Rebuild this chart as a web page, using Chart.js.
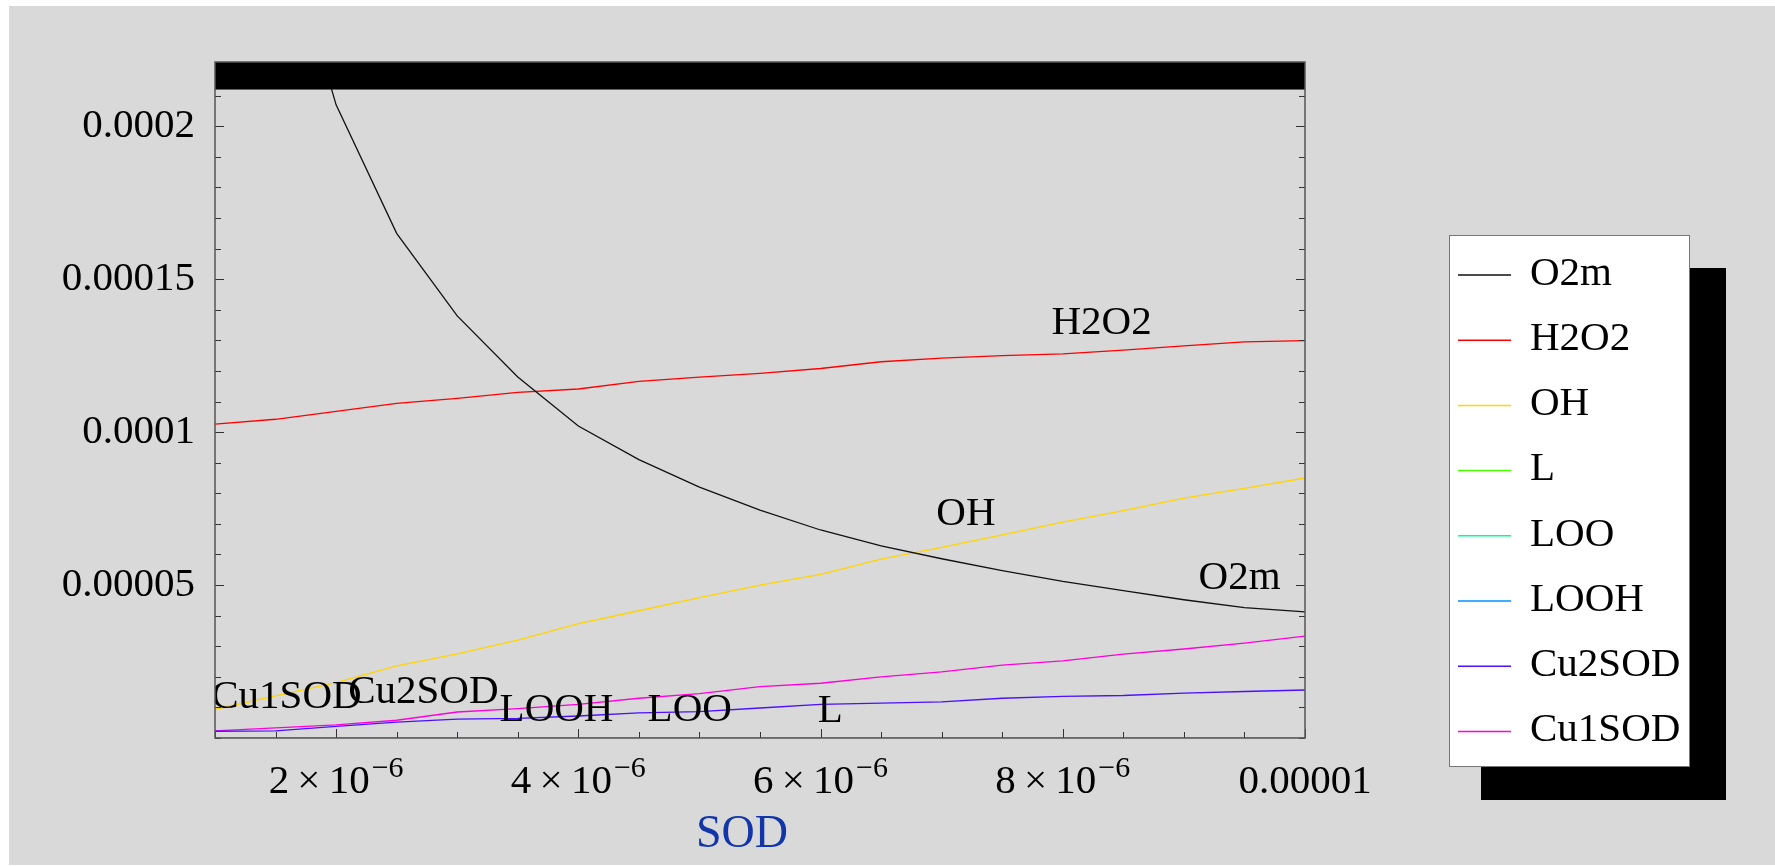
<!DOCTYPE html>
<html>
<head>
<meta charset="utf-8">
<script src="https://cdn.jsdelivr.net/npm/chart.js@4.4.1/dist/chart.umd.min.js"></script>
<style>
    html, body { margin: 0; padding: 0; background: #ffffff; }
    #fondo { position: absolute; left: 9px; top: 6px; width: 1766px; height: 859px; background: #d9d9d9; }
    #grafico { position: absolute; left: 0; top: 0; }
</style>
</head>
<body>
<div id="fondo"></div>
<canvas id="grafico" width="1775" height="866"></canvas>
<script>
// SOD concentration (x axis)
const sod = [0.000001, 0.0000015, 0.000002, 0.0000025, 0.000003, 0.0000035, 0.000004, 0.0000045, 0.000005, 0.0000055,
             0.000006, 0.0000065, 0.000007, 0.0000075, 0.000008, 0.0000085, 0.000009, 0.0000095, 0.00001];

// series (units of 1e-5)
const o2m    = [41.0, 27.5, 20.7, 16.5, 13.8, 11.8, 10.2, 9.1, 8.2, 7.45, 6.8, 6.28, 5.86, 5.47, 5.12, 4.82, 4.52, 4.26, 4.12];
const h2o2   = [10.26, 10.42, 10.68, 10.94, 11.1, 11.3, 11.41, 11.66, 11.8, 11.92, 12.08, 12.3, 12.42, 12.5, 12.56, 12.68, 12.82, 12.95, 12.99];
const oh     = [0.94, 1.38, 1.81, 2.36, 2.75, 3.2, 3.74, 4.16, 4.59, 5.0, 5.35, 5.85, 6.23, 6.64, 7.06, 7.43, 7.84, 8.16, 8.5];
const lRad   = [0, 0, 0, 0, 0, 0, 0, 0, 0, 0, 0, 0, 0, 0, 0, 0, 0, 0, 0];
const loo    = [0, 0, 0, 0, 0, 0, 0, 0, 0, 0, 0, 0, 0, 0, 0, 0, 0, 0, 0];
const looh   = [0, 0, 0, 0, 0, 0, 0, 0, 0, 0, 0, 0, 0, 0, 0, 0, 0, 0, 0];
const cu2sod = [0.22, 0.23, 0.38, 0.52, 0.62, 0.64, 0.72, 0.82, 0.86, 0.98, 1.1, 1.14, 1.18, 1.3, 1.36, 1.39, 1.47, 1.52, 1.57];
const cu1sod = [0.23, 0.33, 0.43, 0.58, 0.85, 0.96, 1.1, 1.3, 1.45, 1.68, 1.79, 2.0, 2.16, 2.38, 2.52, 2.74, 2.91, 3.1, 3.33];

const seriesNames  = ['O2m', 'H2O2', 'OH', 'L', 'LOO', 'LOOH', 'Cu2SOD', 'Cu1SOD'];
const seriesData   = [o2m, h2o2, oh, lRad, loo, looh, cu2sod, cu1sod];
const seriesColors = ['#111111', '#ff0000', '#ffd400', '#49ff00', '#00ff92', '#0092ff', '#4a10ff', '#ff00db'];

// ticks
const yTicks = [0, 0.00001, 0.00002, 0.00003, 0.00004, 0.00005, 0.00006, 0.00007, 0.00008, 0.00009, 0.0001,
                0.00011, 0.00012, 0.00013, 0.00014, 0.00015, 0.00016, 0.00017, 0.00018, 0.00019, 0.0002, 0.00021];
const yMajor = [0.00005, 0.0001, 0.00015, 0.0002];
const yLabels = ['0.00005', '0.0001', '0.00015', '0.0002'];
const xTicks = sod;
const xMajor = [0.000002, 0.000004, 0.000006, 0.000008, 0.00001];
const xLabelBase = ['2\u2009\u00d7\u200910', '4\u2009\u00d7\u200910', '6\u2009\u00d7\u200910', '8\u2009\u00d7\u200910', '0.00001'];
const xLabelExp  = ['\u22126', '\u22126', '\u22126', '\u22126', ''];

// text labels placed on the plot (x in 1e-6, y in 1e-5)
const noteText = ['H2O2', 'OH', 'O2m', 'Cu1SOD', 'Cu2SOD', 'LOOH', 'LOO', 'L'];
const noteX    = [8.32, 7.20, 9.46, 1.59, 2.72, 3.82, 4.92, 6.08];
const noteY    = [13.57, 7.32, 5.23, 1.34, 1.50, 0.92, 0.92, 0.88];

const serif = '"Liberation Serif", "Times New Roman", serif';
const barBottom = 0.000212;

function isMajor(v, lista) {
    return lista.some(m => Math.abs(m - v) < 1e-9);
}

const marcoPlugin = {
    id: 'marco',
    afterDatasetsDraw(chart) {
        const ctx = chart.ctx;
        const a = chart.chartArea;
        const xs = chart.scales.x, ys = chart.scales.y;
        ctx.save();

        // notes on curves
        ctx.beginPath();
        ctx.rect(a.left, a.top, a.right - a.left, a.bottom - a.top);
        ctx.clip();
        ctx.fillStyle = '#000';
        ctx.font = '41px ' + serif;
        ctx.textAlign = 'center';
        ctx.textBaseline = 'middle';
        noteText.forEach((t, i) => {
            ctx.fillText(t, xs.getPixelForValue(noteX[i] * 1e-6), ys.getPixelForValue(noteY[i] * 1e-5));
        });
        ctx.restore();
        ctx.save();

        // tick marks pointing inward
        ctx.strokeStyle = '#333';
        ctx.lineWidth = 1;
        ctx.beginPath();
        yTicks.forEach(v => {
            const y = Math.round(ys.getPixelForValue(v)) + 0.5;
            const len = isMajor(v, yMajor) ? 9 : 6;
            ctx.moveTo(a.left, y); ctx.lineTo(a.left + len, y);
            ctx.moveTo(a.right, y); ctx.lineTo(a.right - len, y);
        });
        xTicks.forEach(v => {
            const x = Math.round(xs.getPixelForValue(v)) + 0.5;
            const len = isMajor(v, xMajor) ? 9 : 6;
            ctx.moveTo(x, a.bottom); ctx.lineTo(x, a.bottom - len);
        });
        ctx.stroke();

        // black band along the top
        const yb = ys.getPixelForValue(barBottom);
        ctx.fillStyle = '#000';
        ctx.fillRect(a.left, a.top, a.right - a.left, yb - a.top);

        // frame
        ctx.strokeStyle = '#555';
        ctx.lineWidth = 1.5;
        ctx.strokeRect(a.left, a.top, a.right - a.left, a.bottom - a.top);
        ctx.restore();
    },
    afterDraw(chart) {
        const ctx = chart.ctx;
        const a = chart.chartArea;
        const xs = chart.scales.x;
        ctx.save();

        // x tick labels with exponent
        ctx.fillStyle = '#000';
        ctx.textBaseline = 'alphabetic';
        ctx.textAlign = 'left';
        xMajor.forEach((v, i) => {
            ctx.font = '41px ' + serif;
            const wb = ctx.measureText(xLabelBase[i]).width;
            ctx.font = '30px ' + serif;
            const we = xLabelExp[i] ? ctx.measureText(xLabelExp[i]).width + 2 : 0;
            const x0 = xs.getPixelForValue(v) - (wb + we) / 2;
            ctx.font = '41px ' + serif;
            ctx.fillText(xLabelBase[i], x0, a.bottom + 55);
            if (xLabelExp[i]) {
                ctx.font = '30px ' + serif;
                ctx.fillText(xLabelExp[i], x0 + wb + 2, a.bottom + 39);
            }
        });

        // axis title
        ctx.fillStyle = '#1236a8';
        ctx.font = '46px ' + serif;
        ctx.textAlign = 'center';
        ctx.fillText('SOD', a.left + 527, a.bottom + 109);

        // legend box with shadow
        const lx = 1449, ly = 235, lw = 240, lh = 531;
        ctx.fillStyle = '#000';
        ctx.fillRect(lx + 32, ly + 33, lw + 5, lh + 1);
        ctx.fillStyle = '#fff';
        ctx.fillRect(lx, ly, lw, lh);
        ctx.strokeStyle = '#777';
        ctx.lineWidth = 1;
        ctx.strokeRect(lx + 0.5, ly + 0.5, lw, lh);

        ctx.font = '41px ' + serif;
        ctx.textAlign = 'left';
        ctx.textBaseline = 'middle';
        chart.data.datasets.forEach((ds, i) => {
            const y = ly + 40 + i * 65.2;
            ctx.strokeStyle = ds.borderColor;
            ctx.lineWidth = 1.5;
            ctx.beginPath();
            ctx.moveTo(lx + 9, y);
            ctx.lineTo(lx + 62, y);
            ctx.stroke();
            ctx.fillStyle = '#000';
            ctx.fillText(ds.label, lx + 81, y - 1);
        });
        ctx.restore();
    }
};

const datasets = seriesNames.map((nombre, i) => ({
    label: nombre,
    data: sod.map((x, j) => ({ x: x, y: seriesData[i][j] * 1e-5 })),
    borderColor: seriesColors[i],
    backgroundColor: seriesColors[i],
    borderWidth: 1.3,
    pointRadius: 0,
    tension: 0,
    fill: false
}));

new Chart(document.getElementById('grafico'), {
    type: 'line',
    data: { datasets: datasets },
    options: {
        responsive: false,
        animation: false,
        devicePixelRatio: 1,
        layout: { padding: { left: 0, top: 62, right: 470, bottom: 0 } },
        plugins: { legend: { display: false }, tooltip: { enabled: false } },
        scales: {
            x: {
                type: 'linear',
                min: 0.000001,
                max: 0.00001,
                grid: { display: false, drawTicks: false },
                border: { display: false },
                ticks: { display: false },
                afterBuildTicks: s => { s.ticks = xTicks.map(v => ({ value: v })); },
                afterFit: s => { s.height = 128; }
            },
            y: {
                type: 'linear',
                min: 0,
                max: 0.000221,
                grid: { display: false, drawTicks: false },
                border: { display: false },
                ticks: {
                    autoSkip: false,
                    padding: 20,
                    color: '#000',
                    font: { family: serif, size: 41 },
                    callback: v => {
                        const k = yMajor.findIndex(m => Math.abs(m - v) < 1e-9);
                        return k >= 0 ? yLabels[k] : '';
                    }
                },
                afterBuildTicks: s => { s.ticks = yTicks.map(v => ({ value: v })); },
                afterFit: s => { s.width = 215; }
            }
        }
    },
    plugins: [marcoPlugin]
});
</script>
</body>
</html>
